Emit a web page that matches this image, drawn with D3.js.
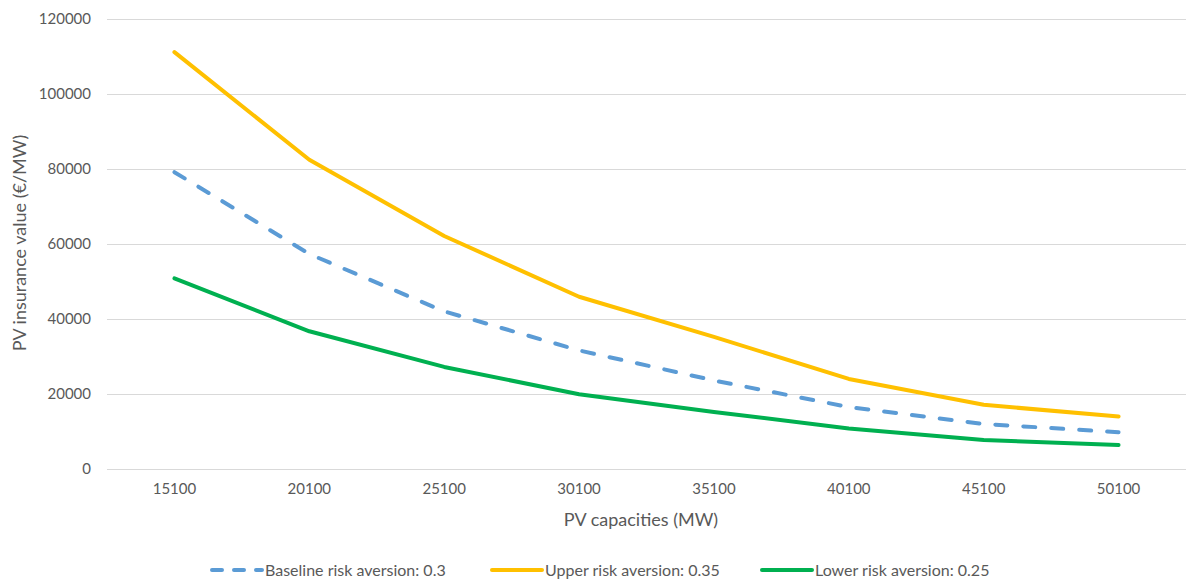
<!DOCTYPE html>
<html>
<head>
<meta charset="utf-8">
<script src="https://cdn.jsdelivr.net/npm/d3@7"></script>
<style>
  html, body { margin: 0; padding: 0; background: #fff; }
  svg { display: block; }
  text { font-family: Lato, "Open Sans", sans-serif; fill: #595959; }
</style>
</head>
<body>
<svg id="chart" width="1186" height="581"></svg>
<script>
// PV capacity scenarios (MW)
const capacities = ["15100", "20100", "25100", "30100", "35100", "40100", "45100", "50100"];

// Insurance value (€/MW) per risk-aversion level
const baseline = [79100, 57300, 42000, 31600, 23600, 16500, 12000, 9800];
const upper    = [111100, 82400, 62100, 45900, 35200, 24000, 17100, 14000];
const lower    = [50800, 36700, 27200, 19900, 15200, 10800, 7700, 6400];

const yTicks = [0, 20000, 40000, 60000, 80000, 100000, 120000];

const seriesNames = ["Baseline risk aversion: 0.3", "Upper risk aversion: 0.35", "Lower risk aversion: 0.25"];

const series = [
  { name: seriesNames[0], values: baseline, color: "#5B9BD5", dash: "12,16" },
  { name: seriesNames[1], values: upper,    color: "#FFC000", dash: null },
  { name: seriesNames[2], values: lower,    color: "#00B050", dash: null }
];

const svg = d3.select("#chart");
const plotLeft = 107;

const x = d3.scaleBand().domain(capacities).range([plotLeft, 1186]);
const y = d3.scaleLinear().domain([0, 120000]).range([469, 18.7]);

// horizontal gridlines
svg.append("g")
  .selectAll("line")
  .data(yTicks)
  .join("line")
  .attr("x1", plotLeft).attr("x2", 1186)
  .attr("y1", d => Math.round(y(d)) + 0.5).attr("y2", d => Math.round(y(d)) + 0.5)
  .attr("stroke", "#d9d9d9").attr("stroke-width", 1);

// y axis labels
const yAxis = d3.axisLeft(y).tickValues(yTicks).tickSize(0).tickPadding(0).tickFormat(d3.format("d"));
const gy = svg.append("g").attr("transform", "translate(91,0)").call(yAxis);
gy.select(".domain").remove();
gy.selectAll("text").style("font-size", "15px").attr("fill", "#595959")
  .attr("font-family", "Lato, 'Open Sans', sans-serif");

// x axis labels
const xAxis = d3.axisBottom(x).tickSize(0).tickPadding(0);
const gx = svg.append("g").attr("transform", "translate(0,483)").call(xAxis);
gx.select(".domain").remove();
gx.selectAll("text").style("font-size", "15px").attr("fill", "#595959")
  .attr("font-family", "Lato, 'Open Sans', sans-serif");

// axis titles
svg.append("text")
  .attr("transform", "translate(26,243) rotate(-90)")
  .attr("text-anchor", "middle")
  .style("font-size", "18px")
  .text("PV insurance value (€/MW)");

svg.append("text")
  .attr("x", 641).attr("y", 526)
  .attr("text-anchor", "middle")
  .style("font-size", "18px")
  .text("PV capacities (MW)");

// series lines
const line = d3.line()
  .x((d, i) => x(capacities[i]) + x.bandwidth() / 2)
  .y(d => y(d));

svg.append("g")
  .selectAll("path")
  .data(series)
  .join("path")
  .attr("d", d => line(d.values))
  .attr("fill", "none")
  .attr("stroke", d => d.color)
  .attr("stroke-width", 4)
  .attr("stroke-linecap", "round")
  .attr("stroke-linejoin", "round")
  .attr("stroke-dasharray", d => d.dash);

// legend
const legendX = [210, 490, 760];
const lg = svg.append("g").attr("transform", "translate(0,570)");
series.forEach((s, i) => {
  const g = lg.append("g").attr("transform", `translate(${legendX[i]},0)`);
  g.append("line")
    .attr("x1", 2).attr("x2", 52).attr("y1", 0).attr("y2", 0)
    .attr("stroke", s.color).attr("stroke-width", 4)
    .attr("stroke-linecap", "round")
    .attr("stroke-dasharray", s.dash ? "10,12" : null);
  g.append("text")
    .attr("x", 55).attr("y", 5.5)
    .style("font-size", "16px")
    .text(s.name);
});
</script>
</body>
</html>
